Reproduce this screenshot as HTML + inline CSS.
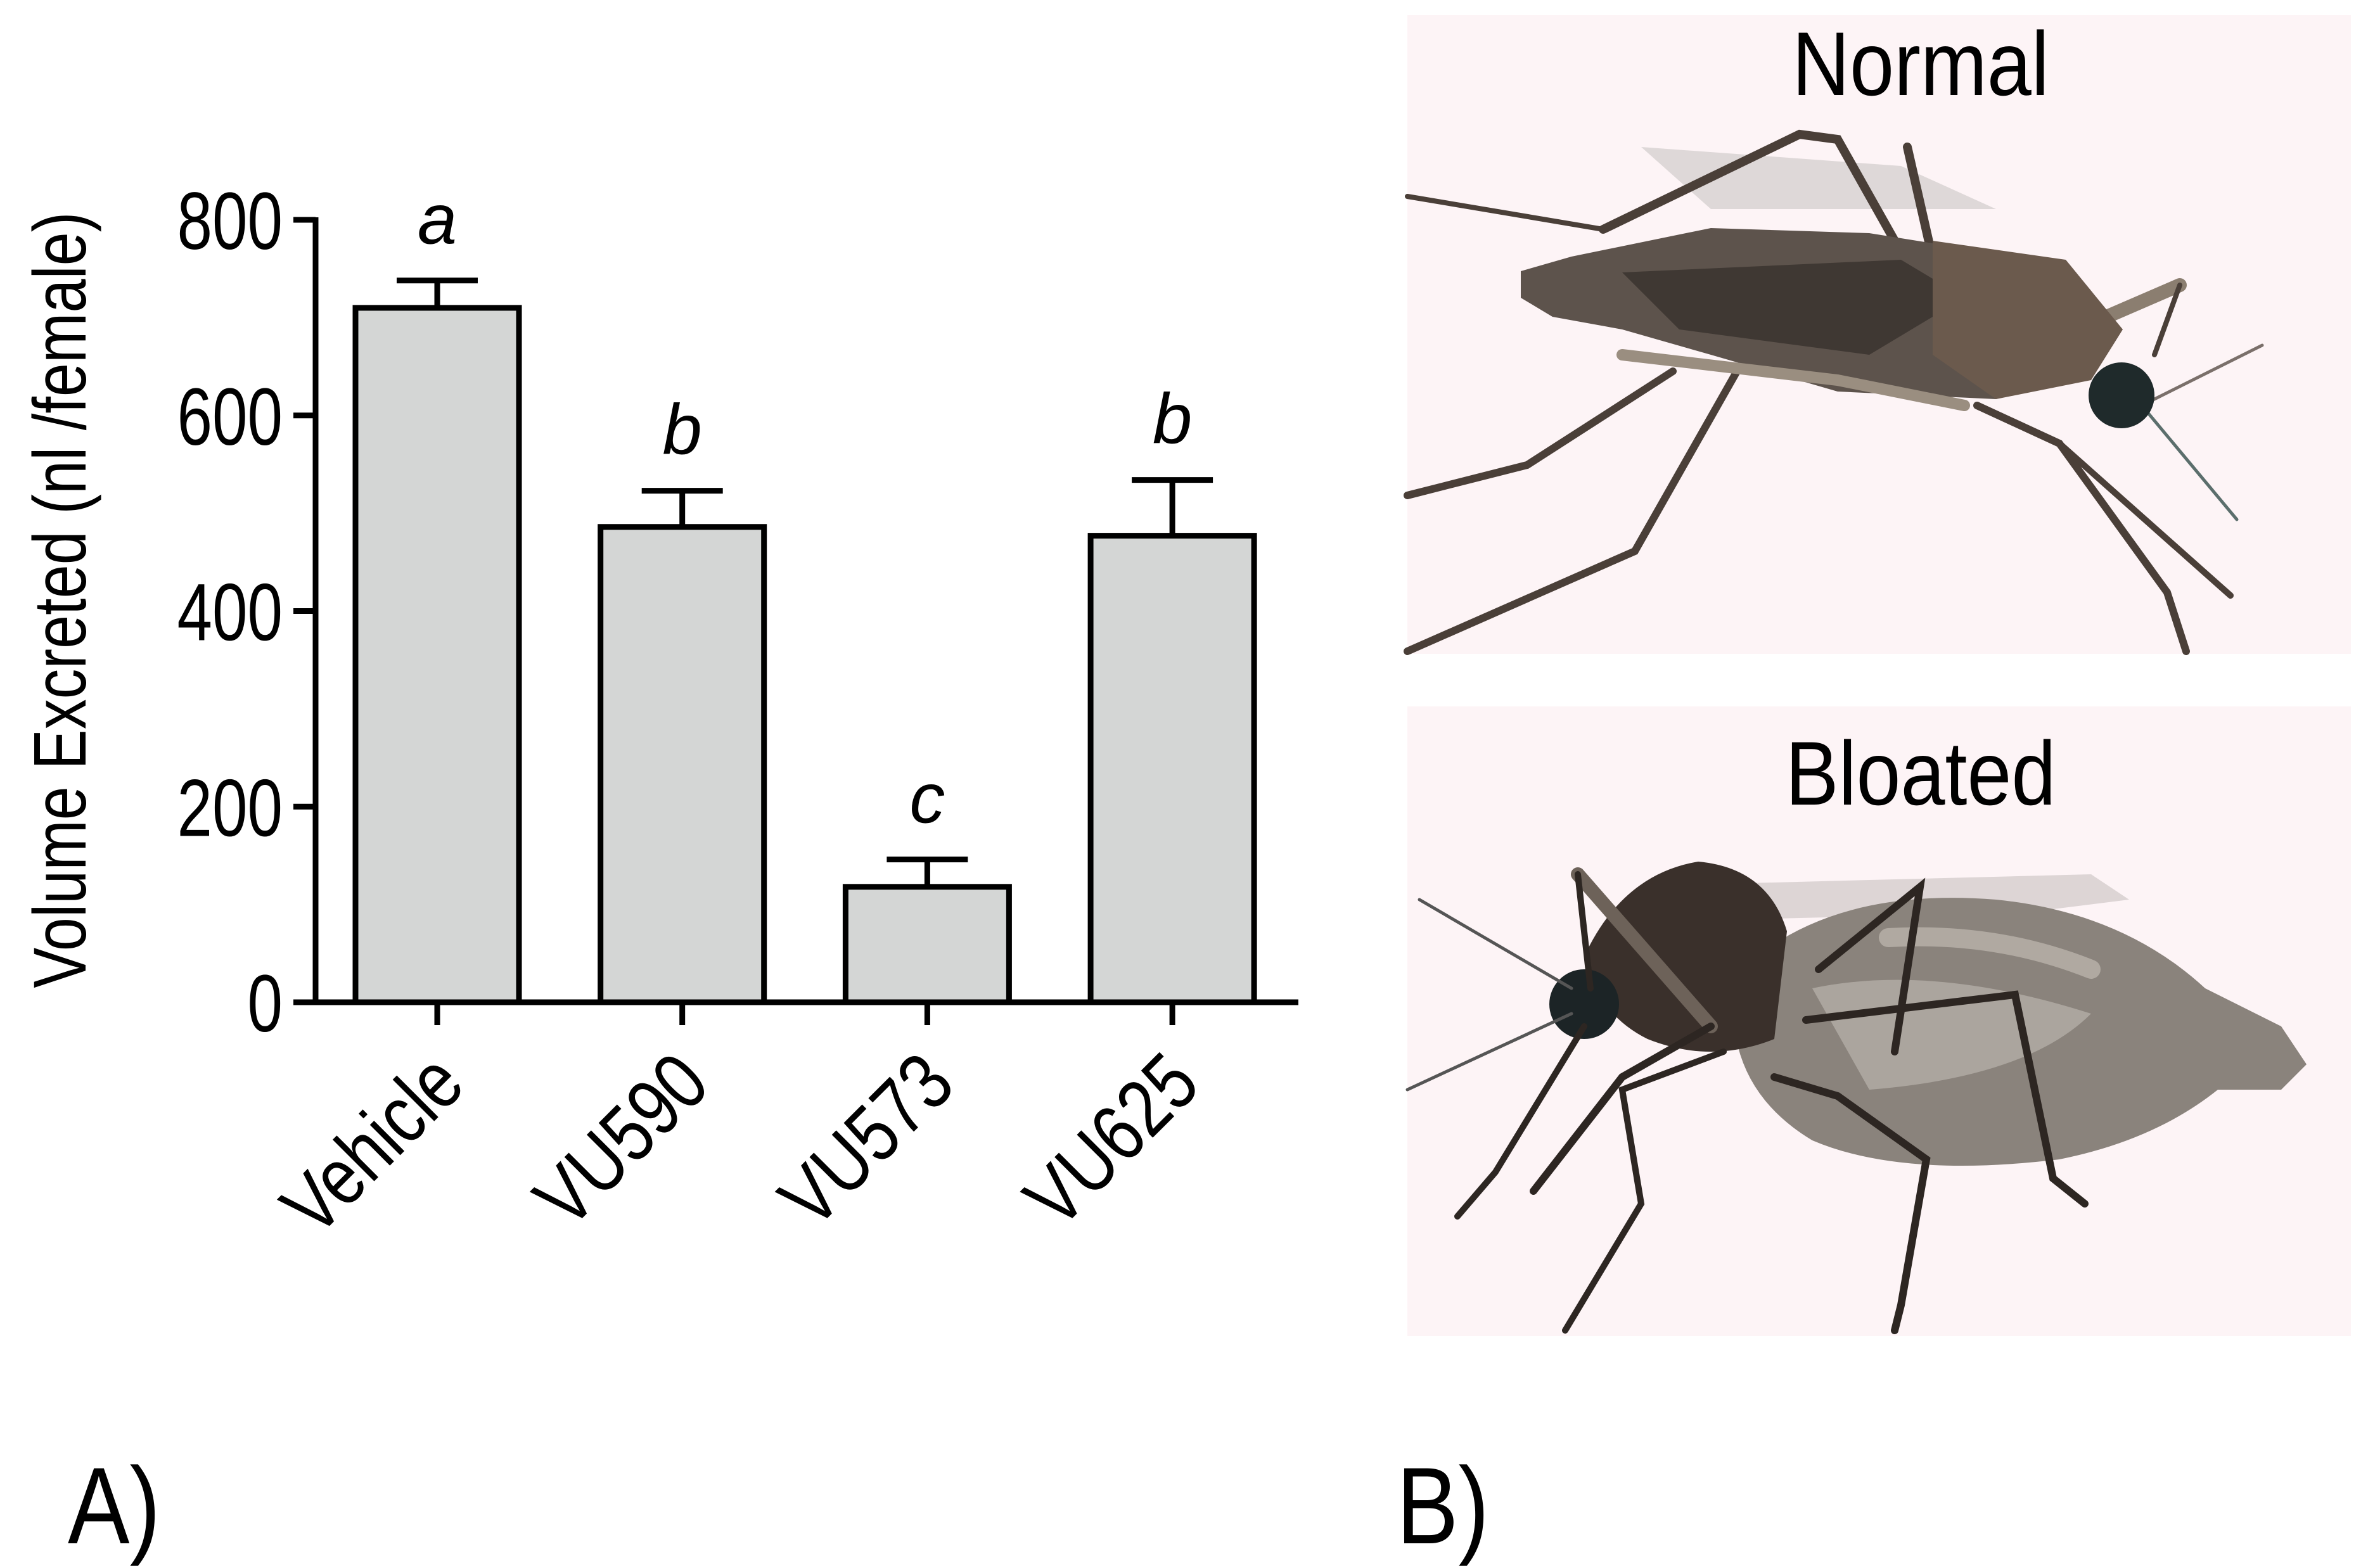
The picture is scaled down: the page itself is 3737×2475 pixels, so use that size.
<!DOCTYPE html>
<html><head><meta charset="utf-8"><style>
html,body{margin:0;padding:0;background:#fff;}
svg{display:block;}
text{font-family:"Liberation Sans",sans-serif;}
</style></head><body>
<svg id="fig" width="3737" height="2475" viewBox="0 0 3737 2475" xmlns="http://www.w3.org/2000/svg">
  <g id="chart"></g>
  <text x="107" y="2436" font-size="172" transform="translate(107 0) scale(0.85 1) translate(-107 0)">A)</text>
  <text x="2204" y="2436" font-size="172" transform="translate(2204 0) scale(0.85 1) translate(-2204 0)">B)</text>

  <g>
    <rect x="2221" y="24" width="1489" height="1008" fill="#fdf4f6"/>
    <text x="3031" y="150" font-size="143" text-anchor="middle" transform="translate(3031 0) scale(0.88 1) translate(-3031 0)">Normal</text>
    <g stroke-linecap="round">
      <path d="M2590 232 L3000 262 L3150 330 L2700 330 Z" fill="#c9c4c4" opacity="0.6"/>
      <g stroke="#4a3f38" fill="none">
        <path d="M2221 310 L2530 362" stroke-width="8"/>
        <path d="M2530 362 L2840 212 L2900 220 L3080 540" stroke-width="14"/>
        <path d="M3010 232 L3080 540" stroke-width="14"/>
        <path d="M2221 782 L2410 734 L2640 586" stroke-width="12"/>
        <path d="M2221 1028 L2580 870 L2740 588" stroke-width="12"/>
        <path d="M3120 640 L3250 700 L3420 935 L3450 1028" stroke-width="12"/>
        <path d="M3250 700 L3520 940" stroke-width="10"/>
        <path d="M3070 610 L3440 450" stroke="#8b7e70" stroke-width="22"/>
        <path d="M3440 450 L3400 560" stroke-width="8"/>
        <path d="M3380 640 L3570 545" stroke="#7a6f6a" stroke-width="5"/>
        <path d="M3380 640 L3530 820" stroke="#5b6e6c" stroke-width="5"/>
      </g>
      <path d="M2400 428 L2480 405 L2700 360 L2950 368 L3150 400 L3260 420 L3330 500 L3300 580 L3150 630 L2900 618 L2700 560 L2560 520 L2450 500 L2400 470 Z" fill="#5d534c"/>
      <path d="M2560 430 L3000 410 L3100 470 L2950 560 L2650 520 Z" fill="#3f3833"/>
      <path d="M3050 380 L3260 410 L3350 520 L3300 600 L3150 630 L3050 560 Z" fill="#6b5a4d"/>
      <circle cx="3348" cy="624" r="52" fill="#1f2a2b"/>
      <path d="M2560 560 L2900 600 L3100 640" stroke="#9a8e80" stroke-width="18" fill="none"/>
    </g>
  </g>

  <g>
    <rect x="2221" y="1115" width="1489" height="994" fill="#fdf4f6"/>
    <text x="3031" y="1270" font-size="143" text-anchor="middle" transform="translate(3031 0) scale(0.88 1) translate(-3031 0)">Bloated</text>
    <g stroke-linecap="round">
      <path d="M2720 1395 L3300 1380 L3360 1420 L3200 1440 L2800 1450 Z" fill="#cfc8c8" opacity="0.7"/>
      <path d="M2760 1520 Q2900 1400 3150 1420 Q3350 1440 3480 1560 L3600 1620 L3640 1680 L3600 1720 L3500 1720 Q3400 1800 3250 1830 Q3000 1860 2860 1800 Q2760 1740 2740 1640 Z" fill="#8a837c"/>
      <path d="M2860 1560 Q3050 1520 3300 1600 Q3200 1700 2950 1720 Z" fill="#b9b3ac" opacity="0.7"/>
      <path d="M2980 1480 Q3150 1470 3300 1530" stroke="#c9c3bb" stroke-width="30" fill="none" opacity="0.6"/>
      <path d="M2500 1510 Q2560 1380 2680 1360 Q2790 1370 2820 1470 L2800 1640 Q2700 1680 2600 1640 Q2520 1600 2500 1510 Z" fill="#3a302b"/>
      <circle cx="2500" cy="1585" r="55" fill="#1c2426"/>
      <g stroke="#2d2622" fill="none">
        <path d="M2490 1380 L2700 1620" stroke="#6d6259" stroke-width="22"/>
        <path d="M2490 1380 L2510 1560" stroke-width="10"/>
        <path d="M2870 1530 L3030 1400 L2990 1660" stroke-width="12"/>
        <path d="M2850 1610 L3180 1570 L3240 1860 L3290 1900" stroke-width="12"/>
        <path d="M2700 1620 L2560 1700 L2420 1880" stroke-width="12"/>
        <path d="M2720 1660 L2560 1720 L2590 1900 L2470 2100" stroke-width="10"/>
        <path d="M2800 1700 L2900 1730 L3040 1830 L3000 2060 L2990 2100" stroke-width="12"/>
        <path d="M2480 1600 L2221 1720" stroke="#555" stroke-width="5"/>
        <path d="M2480 1560 L2240 1420" stroke="#555" stroke-width="5"/>
        <path d="M2500 1620 L2360 1850 L2300 1920" stroke-width="10"/>
      </g>
    </g>
  </g>
</svg>
<script>
const categories = ["Vehicle", "VU590", "VU573", "VU625"];
const means = [710, 486, 118, 477];
const errors = [28, 37, 28, 57];
const letters = ["a", "b", "c", "b"];
const yTicks = [0, 200, 400, 600, 800];

const NS = "http://www.w3.org/2000/svg";
const g = document.getElementById("chart");
const X0 = 498, Y0 = 1582, YTOP = 347, XEND = 2049;
const yScale = v => Y0 - (v / 800) * (Y0 - YTOP);
const bandStart = 561, bandStep = 386.7, barW = 258;
const xLeft = i => bandStart + i * bandStep;
const xCenter = i => xLeft(i) + barW / 2;

function mk(tag, attrs) {
  const e = document.createElementNS(NS, tag);
  for (const k in attrs) e.setAttribute(k, attrs[k]);
  g.appendChild(e);
  return e;
}

categories.forEach((c, i) => {
  const bar = mk("rect", {x: xLeft(i), y: yScale(means[i]), width: barW, height: Y0 - yScale(means[i]), fill: "#d4d6d5", stroke: "#000", "stroke-width": 9});
  
  
  const top = yScale(means[i] + errors[i]);
  const eb = mk("path", {d: `M${xCenter(i)} ${yScale(means[i])} V${top} M${xCenter(i) - 64} ${top} H${xCenter(i) + 64}`, stroke: "#000", "stroke-width": 9, fill: "none"});
  
  
  const lt = mk("text", {x: xCenter(i), y: top - 58, "font-size": 112, "font-style": "italic", "text-anchor": "middle"});
  lt.textContent = letters[i];
  
  
  const tk = mk("line", {x1: xCenter(i), y1: Y0, x2: xCenter(i), y2: Y0 + 36, stroke: "#000", "stroke-width": 9});
  
  
  const cx = xCenter(i) + 48, cy = Y0 + 135;
  const cl = mk("text", {x: 0, y: 0, "font-size": 128, "text-anchor": "end", transform: `translate(${cx} ${cy}) rotate(-45) scale(0.82 1)`});
  cl.textContent = c;
  
  
});

const xa = mk("line", {x1: X0 - 35, y1: Y0, x2: XEND, y2: Y0, stroke: "#000", "stroke-width": 9});


const ya = mk("line", {x1: X0, y1: YTOP - 4, x2: X0, y2: Y0 + 4, stroke: "#000", "stroke-width": 9});



yTicks.forEach(t => {
  const y = yScale(t);
  const tl = mk("line", {x1: X0 - 35, y1: y, x2: X0, y2: y, stroke: "#000", "stroke-width": 9});
  
  
  const tx = mk("text", {x: 0, y: 0, "font-size": 128, "text-anchor": "end", transform: `translate(446 ${y + 46}) scale(0.78 1)`});
  tx.textContent = t;
  
  
});

const yt = mk("text", {x: 0, y: 0, "font-size": 118, "text-anchor": "middle", textLength: 1225, lengthAdjust: "spacingAndGlyphs", transform: "translate(135 947) rotate(-90)"});
yt.textContent = "Volume Excreted (nl /female)";


</script>
</body></html>
